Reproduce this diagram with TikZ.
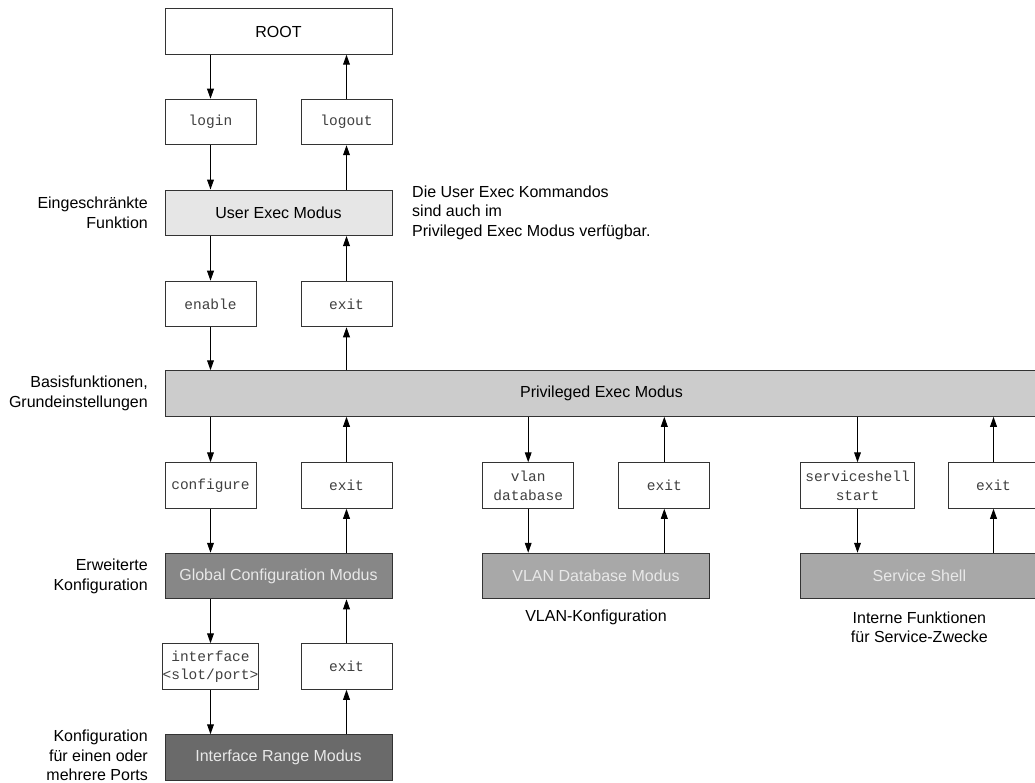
\documentclass[tikz,border=0pt]{standalone}
\usepackage{fontspec}
\setmainfont{Liberation Sans}
\setmonofont{Liberation Mono}
\usetikzlibrary{arrows.meta}
\definecolor{bordergray}{HTML}{333333}
\definecolor{userfill}{HTML}{E6E6E6}
\definecolor{privfill}{HTML}{CCCCCC}
\definecolor{globalfill}{HTML}{878787}
\definecolor{rangefill}{HTML}{6A6A6A}
\definecolor{vlanfill}{HTML}{A8A8A8}
\definecolor{darktext}{HTML}{E8E8E8}
\tikzset{
  box/.style={draw=bordergray, line width=1pt, rectangle, inner sep=0pt, minimum height=45.5pt, fill=white},
  cmdbox/.style={box, minimum width=91pt, font=\fontsize{14.5}{19.3}\selectfont\ttfamily, align=center, text=black!75},
  modebox/.style={box, font=\fontsize{16}{19}\selectfont},
  sidelabel/.style={anchor=east, align=right, inner sep=0pt, font=\fontsize{16}{20}\selectfont},
  notelabel/.style={inner sep=0pt, align=center, font=\fontsize{16}{19.3}\selectfont},
  arr/.style={draw=black, line width=1pt, -{Triangle[length=10pt,width=6.8pt]}}
}
\begin{document}
\begin{tikzpicture}[x=1pt,y=-1pt]
\useasboundingbox (0,0) rectangle (1035,783);
\clip (0,0) rectangle (1035,783);
% main column
\node[modebox, minimum width=227pt] (root) at (278.5,31.5) {ROOT};
\node[cmdbox] (login) at (210.5,122) {login};
\node[cmdbox] (logout) at (346.5,122) {logout};
\node[modebox, minimum width=227pt, fill=userfill] (user) at (278.5,212.8) {User Exec Modus};
\node[cmdbox] (enable) at (210.5,304) {enable};
\node[cmdbox] (exitA) at (346.5,304) {exit};
\node[modebox, minimum width=873pt, fill=privfill] (priv) at (601.5,393.5) {Privileged Exec Modus};
\node[cmdbox] (configure) at (210.5,485.5) {configure};
\node[cmdbox] (exitB) at (346.5,485.5) {exit};
\node[modebox, minimum width=227pt, fill=globalfill, text=darktext] (global) at (278.5,576) {Global Configuration Modus};
\node[cmdbox] (iface) at (210.5,666.5) {interface\\[-1pt]<slot/port>};
\node[cmdbox] (exitC) at (346.5,666.5) {exit};
\node[modebox, minimum width=227pt, fill=rangefill, text=darktext] (range) at (278.5,757.5) {Interface Range Modus};
% VLAN column
\node[cmdbox] (vlan) at (528.2,485.5) {vlan\\database};
\node[cmdbox] (exitD) at (664.3,485.5) {exit};
\node[modebox, minimum width=227pt, fill=vlanfill, text=darktext] (vlanbox) at (596,576) {VLAN Database Modus};
% Service column
\node[cmdbox, minimum width=113.6pt] (sshell) at (857.5,485.5) {serviceshell\\start};
\node[cmdbox] (exitE) at (993.5,485.5) {exit};
\node[modebox, minimum width=237pt, fill=vlanfill, text=darktext] (service) at (919.4,576) {Service Shell};
% labels
\node[sidelabel] (lab1) at (148,212.8) {Eingeschränkte\\Funktion};
\node[sidelabel] (lab2) at (148,393.5) {Basisfunktionen,\\Grundeinstellungen};
\node[sidelabel] (lab3) at (148,576) {Erweiterte\\Konfiguration};
\node[sidelabel, font=\fontsize{16}{19.5}\selectfont] (lab4) at (148,755.5) {Konfiguration\\für einen oder\\mehrere Ports};
\node[notelabel, anchor=west, align=left] (note) at (412,212.8) {Die User Exec Kommandos\\sind auch im\\Privileged Exec Modus verfügbar.};
\node[notelabel] (vlanlab) at (596,617.7) {VLAN-Konfiguration};
\node[notelabel] (servlab) at (919.4,627.5) {Interne Funktionen\\für Service-Zwecke};
% arrows
\draw[arr] (root.south -| login) -- (login.north);
\draw[arr] (login.south) -- (user.north -| login);
\draw[arr] (user.north -| logout) -- (logout.south);
\draw[arr] (logout.north) -- (root.south -| logout);
\draw[arr] (user.south -| enable) -- (enable.north);
\draw[arr] (enable.south) -- (priv.north -| enable);
\draw[arr] (priv.north -| exitA) -- (exitA.south);
\draw[arr] (exitA.north) -- (user.south -| exitA);
\draw[arr] (priv.south -| configure) -- (configure.north);
\draw[arr] (configure.south) -- (global.north -| configure);
\draw[arr] (global.north -| exitB) -- (exitB.south);
\draw[arr] (exitB.north) -- (priv.south -| exitB);
\draw[arr] (global.south -| iface) -- (iface.north);
\draw[arr] (iface.south) -- (range.north -| iface);
\draw[arr] (range.north -| exitC) -- (exitC.south);
\draw[arr] (exitC.north) -- (global.south -| exitC);
\draw[arr] (priv.south -| vlan) -- (vlan.north);
\draw[arr] (vlan.south) -- (vlanbox.north -| vlan);
\draw[arr] (vlanbox.north -| exitD) -- (exitD.south);
\draw[arr] (exitD.north) -- (priv.south -| exitD);
\draw[arr] (priv.south -| sshell) -- (sshell.north);
\draw[arr] (sshell.south) -- (service.north -| sshell);
\draw[arr] (service.north -| exitE) -- (exitE.south);
\draw[arr] (exitE.north) -- (priv.south -| exitE);
\end{tikzpicture}
\end{document}
